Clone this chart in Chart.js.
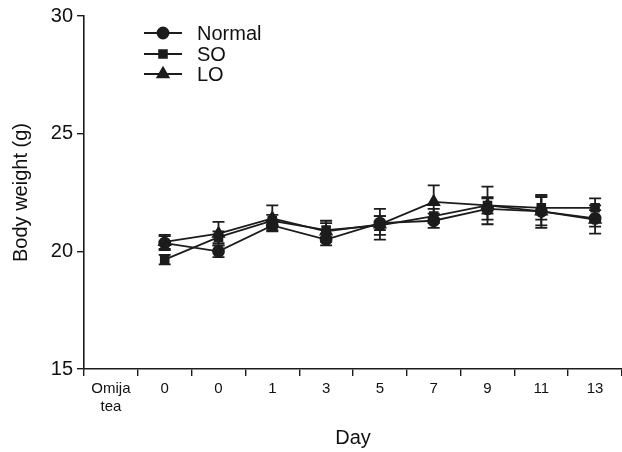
<!DOCTYPE html>
<html>
<head>
<meta charset="utf-8">
<script src="https://cdn.jsdelivr.net/npm/chart.js@4/dist/chart.umd.min.js"></script>
<style>
  html, body { margin: 0; padding: 0; background: #fff; overflow: hidden; }
  #wrap { width: 622px; height: 452px; position: relative; }
  #bw { display: block; }
</style>
</head>
<body>
<div id="wrap"><canvas id="bw"></canvas></div>
<script>
const dayLabels = [['Omija', 'tea'], '0', '0', '1', '3', '5', '7', '9', '11', '13'];
const yTicks = [15, 20, 25, 30];

const normalMean = [null, 20.35, 20.0, 21.1, 20.5, 21.2, 21.3, 21.8, 21.7, 21.4];
const normalErr  = [null, 0.3, 0.25, 0.2, 0.25, 0.3, 0.3, 0.45, 0.6, 0.35];
const soMean     = [null, 19.65, 20.6, 21.3, 20.9, 21.1, 21.5, 21.95, 21.85, 21.85];
const soErr      = [null, 0.2, 0.25, 0.25, 0.3, 0.4, 0.3, 0.35, 0.5, 0.4];
const loMean     = [null, 20.4, 20.75, 21.4, 20.85, 21.15, 22.1, 21.95, 21.7, 21.35];
const loErr      = [null, 0.3, 0.5, 0.55, 0.45, 0.65, 0.7, 0.8, 0.7, 0.6];

const ink = '#1c1c1c';
const font = 'Liberation Sans, Arial, sans-serif';

// error bars, drawn from the y scale
const errorBars = {
  id: 'errorBars',
  afterDatasetsDraw(chart) {
    const ctx = chart.ctx;
    const y = chart.scales.y;
    chart.data.datasets.forEach((ds, i) => {
      const meta = chart.getDatasetMeta(i);
      meta.data.forEach((pt, j) => {
        const v = ds.data[j], e = ds.errors[j];
        if (v == null || e == null) return;
        const top = y.getPixelForValue(v + e);
        const bot = y.getPixelForValue(v - e);
        ctx.save();
        ctx.strokeStyle = ink;
        ctx.lineWidth = 1.8;
        ctx.beginPath();
        ctx.moveTo(pt.x, top); ctx.lineTo(pt.x, bot);
        ctx.moveTo(pt.x - 6, top); ctx.lineTo(pt.x + 6, top);
        ctx.moveTo(pt.x - 6, bot); ctx.lineTo(pt.x + 6, bot);
        ctx.stroke();
        ctx.restore();
      });
    });
  }
};

// legend sitting inside the plot, top left
const insideLegend = {
  id: 'insideLegend',
  afterDraw(chart) {
    const ctx = chart.ctx;
    const x0 = 144, x1 = 182, tx = 197;
    const rows = [33, 54, 74];
    chart.data.datasets.forEach((ds, i) => {
      const yy = rows[i];
      ctx.save();
      ctx.strokeStyle = ink;
      ctx.fillStyle = ink;
      ctx.lineWidth = 1.8;
      ctx.beginPath();
      ctx.moveTo(x0, yy); ctx.lineTo(x1, yy);
      ctx.stroke();
      Chart.helpers.drawPoint(ctx, {
        pointStyle: ds.pointStyle, radius: ds.pointRadius, rotation: 0, borderWidth: 1
      }, (x0 + x1) / 2, yy);
      ctx.font = '20px ' + font;
      ctx.textBaseline = 'middle';
      ctx.fillStyle = '#111';
      ctx.fillText(ds.label, tx, yy + 1);
      ctx.restore();
    });
  }
};

function series(label, data, errors, style, radius) {
  return {
    label: label,
    data: data,
    errors: errors,
    borderColor: ink,
    backgroundColor: ink,
    borderWidth: 1.8,
    pointStyle: style,
    pointRadius: radius,
    pointHoverRadius: radius,
    pointBackgroundColor: ink,
    pointBorderColor: ink,
    tension: 0,
    spanGaps: false
  };
}

new Chart(document.getElementById('bw'), {
  type: 'line',
  data: {
    labels: dayLabels,
    datasets: [
      series('Normal', normalMean, normalErr, 'circle', 5.5),
      series('SO', soMean, soErr, 'rect', 5.5),
      series('LO', loMean, loErr, 'triangle', 6.5)
    ]
  },
  options: {
    responsive: true,
    maintainAspectRatio: false,
    animation: false,
    layout: { autoPadding: false, padding: { top: 11, right: 0, left: 0, bottom: 0 } },
    plugins: {
      legend: { display: false },
      tooltip: { enabled: false }
    },
    scales: {
      x: {
        offset: true,
        grid: { offset: true, drawOnChartArea: false, drawTicks: true, tickLength: 7, color: ink, lineWidth: 1.4 },
        border: { color: ink, width: 1.6 },
        ticks: { color: '#111', font: { family: font, size: 15 }, padding: 4, maxRotation: 0, autoSkip: false },
        title: { display: true, text: 'Day', color: '#111', font: { family: font, size: 20 }, padding: { top: 10, bottom: 2 } },
        afterFit: s => { s.height = 83; s.paddingLeft = 0; s.paddingRight = 0; }
      },
      y: {
        min: 15,
        max: 30,
        afterBuildTicks: s => { s.ticks = yTicks.map(v => ({ value: v })); },
        grid: { drawOnChartArea: false, drawTicks: true, tickLength: 7, color: ink, lineWidth: 1.4 },
        border: { color: ink, width: 1.6 },
        ticks: { color: '#111', font: { family: font, size: 20 }, padding: 4 },
        title: { display: true, text: 'Body weight (g)', color: '#111', font: { family: font, size: 20 }, padding: { top: 9, bottom: 0 } },
        afterFit: s => { s.width = 84; }
      }
    }
  },
  plugins: [errorBars, insideLegend]
});
</script>
</body>
</html>
